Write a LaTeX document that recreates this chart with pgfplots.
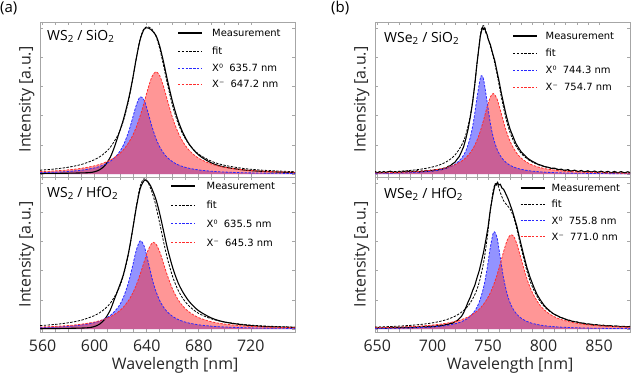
\documentclass[border=0pt]{standalone}
\usepackage{pgfplots}
\pgfplotsset{compat=1.18}
\usepackage{pgfplotstable}
\usepackage{fontspec}
\setmainfont{Open Sans}
\newfontfamily\legfont{DejaVu Sans}
\newcommand\ticksize{\fontsize{16}{18}\selectfont}
\newcommand\labsize{\fontsize{16}{18}\selectfont}
\newcommand\tagsize{\fontsize{14}{16}\selectfont}
\newcommand\legsize{\legfont\fontsize{10}{12}\selectfont}

\definecolor{framegray}{gray}{0.65}
\definecolor{excitonblue}{RGB}{40,40,255}
\definecolor{trionred}{RGB}{255,45,45}

% WS2 / SiO2 : exciton (X0) and trion (X-) components and their sum
\pgfplotstableread{
x X0 Xm fit
558 0.0095 0.0168 0.0263
570 0.0132 0.0223 0.0355
580 0.0182 0.0291 0.0473
590 0.0266 0.0396 0.0662
600 0.0422 0.0566 0.0988
606 0.0589 0.0725 0.1314
612 0.0870 0.0956 0.1826
618 0.138 0.131 0.269
622 0.196 0.165 0.361
626 0.286 0.213 0.499
629 0.377 0.260 0.637
632 0.471 0.321 0.792
635 0.528 0.398 0.926
638 0.506 0.489 0.995
641 0.422 0.585 1.007
644 0.326 0.665 0.991
647 0.246 0.700 0.946
650 0.186 0.673 0.859
653 0.143 0.597 0.740
656 0.112 0.502 0.614
660 0.0834 0.381 0.464
664 0.0641 0.287 0.351
668 0.0507 0.218 0.269
673 0.0389 0.159 0.198
680 0.0282 0.108 0.136
690 0.0191 0.0677 0.0868
700 0.0138 0.046 0.0598
715 0.0091 0.0286 0.0377
730 0.0065 0.0195 0.026
754 0.0041 0.0118 0.0159
}\fitAa
\pgfplotstableread{
x I
558 0.004
570 0.005
580 0.006
590 0.008
596 0.010
600 0.016
604 0.030
608 0.060
612 0.115
615 0.180
618 0.260
622 0.370
626 0.510
629 0.640
632 0.790
635 0.920
638 0.990
640.5 1.000
643 0.990
647 0.950
650 0.875
653 0.765
656 0.640
660 0.490
664 0.370
668 0.280
673 0.200
680 0.130
690 0.075
700 0.048
715 0.028
730 0.018
754 0.010
}\measAa

% WS2 / HfO2
\pgfplotstableread{
x X0 Xm fit
558 0.0099 0.0138 0.0237
570 0.0138 0.0185 0.0323
580 0.0190 0.0243 0.0433
590 0.0279 0.0334 0.0613
600 0.0445 0.0484 0.0929
606 0.0624 0.0626 0.1250
612 0.0928 0.0837 0.1765
618 0.149 0.1165 0.2655
622 0.214 0.149 0.363
626 0.318 0.195 0.513
629 0.425 0.241 0.666
632 0.539 0.301 0.840
635 0.603 0.375 0.978
638 0.569 0.459 1.028
641 0.465 0.538 1.003
644 0.351 0.588 0.939
645.3 0.309 0.593 0.902
647 0.261 0.584 0.845
650 0.195 0.529 0.724
653 0.149 0.447 0.596
656 0.116 0.364 0.480
660 0.0864 0.271 0.357
664 0.0663 0.203 0.269
668 0.0523 0.155 0.207
673 0.0402 0.114 0.154
680 0.0291 0.078 0.107
690 0.0197 0.0496 0.069
700 0.0142 0.034 0.048
715 0.0094 0.0214 0.031
730 0.0067 0.0147 0.021
754 0.0043 0.009 0.013
}\fitAb
\pgfplotstableread{
x I
558 0.003
570 0.004
580 0.005
590 0.007
596 0.010
600 0.018
604 0.035
608 0.070
612 0.130
615 0.200
618 0.270
622 0.370
626 0.520
629 0.670
632 0.830
635 0.960
638 1.015
640 1.015
643 0.980
647 0.890
650 0.790
653 0.670
656 0.550
660 0.420
664 0.320
668 0.250
673 0.185
680 0.125
690 0.075
700 0.048
715 0.028
730 0.018
754 0.011
}\measAb

% WSe2 / SiO2
\pgfplotstableread{
x X0 Xm fit
648 0.0046 0.0075 0.0121
660 0.0060 0.0094 0.0154
672 0.0081 0.0123 0.0204
684 0.0116 0.0167 0.0283
696 0.0180 0.0239 0.0419
706 0.0281 0.0340 0.0621
714 0.0438 0.0475 0.0913
720 0.0658 0.0633 0.1291
726 0.108 0.0879 0.196
730 0.160 0.112 0.272
734 0.253 0.147 0.400
737 0.367 0.183 0.550
740 0.522 0.231 0.753
743 0.656 0.294 0.950
744.3 0.673 0.326 0.999
746 0.644 0.371 1.015
749 0.500 0.456 0.956
752 0.349 0.526 0.875
754.7 0.250 0.551 0.801
758 0.171 0.515 0.686
762 0.114 0.411 0.525
766 0.0805 0.303 0.384
770 0.0594 0.221 0.280
775 0.0428 0.151 0.194
780 0.0322 0.108 0.140
787 0.0228 0.0718 0.0946
795 0.0164 0.0484 0.0648
805 0.0115 0.0321 0.0436
820 0.0074 0.0195 0.0269
840 0.0047 0.0116 0.0163
860 0.0032 0.0077 0.0109
878 0.0024 0.0056 0.0080
}\fitBa
\pgfplotstableread{
x I
648 0.017
650 0.008
652 0.016
654 0.010
656 0.018
658 0.009
660 0.015
662 0.020
664 0.010
666 0.017
668 0.011
670 0.019
672 0.012
674 0.020
676 0.013
678 0.021
680 0.012
682 0.020
684 0.015
686 0.023
688 0.014
690 0.022
692 0.017
694 0.026
696 0.018
698 0.027
700 0.021
702 0.030
704 0.024
706 0.034
708 0.030
710 0.041
712 0.040
714 0.053
716 0.057
718 0.071
720 0.080
722 0.101
724 0.120
726 0.153
728 0.189
730 0.244
732 0.309
734 0.393
736 0.489
738 0.613
740 0.759
741.5 0.851
743 0.944
744 0.976
745 1.005
746 0.988
747 1.001
748 0.966
749 0.956
750 0.923
752 0.886
754 0.828
756 0.776
758 0.703
760 0.631
762 0.551
764 0.481
766 0.413
768 0.353
770 0.303
772 0.266
775 0.210
778 0.173
780 0.150
783 0.129
786 0.106
789 0.091
792 0.079
795 0.067
798 0.060
801 0.051
804 0.047
807 0.039
810 0.041
813 0.029
816 0.034
819 0.023
822 0.031
825 0.019
828 0.027
831 0.016
834 0.025
837 0.014
840 0.023
843 0.012
846 0.021
849 0.011
852 0.020
855 0.010
858 0.019
861 0.009
864 0.018
867 0.009
870 0.017
873 0.008
876 0.016
878 0.010
}\measBa

% WSe2 / HfO2
\pgfplotstableread{
x X0 Xm fit
648 0.0041 0.0095 0.0136
660 0.0052 0.0116 0.0168
672 0.0068 0.0145 0.0213
684 0.0092 0.0187 0.0279
696 0.0132 0.0248 0.0380
706 0.0189 0.0327 0.0516
714 0.0266 0.0418 0.0684
722 0.0398 0.0554 0.0952
728 0.0572 0.0701 0.1273
733 0.0816 0.0871 0.1687
738 0.124 0.111 0.235
742 0.184 0.136 0.320
746 0.287 0.171 0.458
749 0.408 0.205 0.613
752 0.558 0.248 0.806
755 0.663 0.302 0.965
758 0.627 0.369 0.996
761 0.487 0.447 0.934
764 0.347 0.530 0.877
767 0.245 0.603 0.848
770 0.176 0.643 0.819
773 0.131 0.635 0.766
776 0.101 0.581 0.682
780 0.0735 0.475 0.549
785 0.0523 0.345 0.397
790 0.0389 0.248 0.287
797 0.0273 0.161 0.188
805 0.0194 0.105 0.124
815 0.0135 0.0673 0.081
830 0.0087 0.0392 0.048
845 0.0060 0.0255 0.0315
860 0.0044 0.0179 0.0223
878 0.0032 0.0125 0.0157
}\fitBb
\pgfplotstableread{
x I
648 0.012
650 0.005
652 0.013
654 0.006
656 0.012
658 0.005
660 0.013
662 0.007
664 0.014
666 0.007
668 0.013
670 0.007
672 0.014
674 0.008
676 0.015
678 0.008
680 0.015
682 0.009
684 0.016
686 0.010
688 0.017
690 0.011
692 0.018
694 0.012
696 0.019
698 0.014
700 0.021
702 0.016
704 0.023
706 0.020
708 0.027
710 0.024
712 0.032
714 0.031
716 0.040
718 0.040
720 0.051
722 0.057
724 0.071
726 0.087
728 0.113
730 0.149
732 0.186
734 0.219
736 0.263
738 0.299
740 0.351
742 0.399
744 0.463
746 0.529
748 0.611
750 0.699
752 0.816
754 0.904
755.5 0.961
756.5 0.994
757.5 0.984
758.5 1.006
759.5 0.984
761 0.991
762.5 0.964
764 0.956
766 0.924
768 0.891
770 0.849
772 0.806
774 0.754
776 0.701
778 0.634
780 0.571
782 0.509
785 0.421
788 0.351
791 0.291
794 0.239
797 0.201
800 0.167
803 0.142
806 0.122
809 0.104
812 0.093
815 0.081
818 0.073
821 0.063
824 0.058
827 0.050
830 0.049
833 0.041
836 0.040
839 0.033
842 0.034
845 0.028
848 0.030
851 0.023
854 0.026
857 0.020
860 0.023
863 0.018
866 0.021
869 0.016
872 0.019
875 0.015
878 0.018
}\measBb

\pgfplotsset{
  spec/.style={
    scale only axis, width=255bp, height=155bp,
    ymin=-0.02, ymax=1.04,
    ytick={0,0.2,0.4,0.6,0.8,1}, yticklabels={},
    axis line style={framegray, line width=0.6bp},
    tick style={framegray, line width=0.5bp},
    major tick length=3bp, minor tick length=3bp,
    tick align=inside,
    /pgf/number format/assume math mode=true,
    tick label style={font=\ticksize, text=black!85},
    xticklabel shift=4bp,
    ylabel={Intensity [a.u.]},
    every axis y label/.style={at={(axis description cs:-0.052,0.5)},
      rotate=90, anchor=center, font=\labsize, text=black!85},
    every axis x label/.style={at={(axis description cs:0.53,-0.245)},
      anchor=base, font=\labsize, text=black!85},
  },
  comp/.style={draw=none, fill=#1, fill opacity=0.5, smooth, forget plot},
  meas/.style={color=black, line width=1.1bp, smooth},
  measnoisy/.style={color=black, line width=1.1bp, line join=round},
  fitline/.style={color=black, line width=0.8bp, dash pattern=on 2.4bp off 1.4bp, smooth},
  x0line/.style={color=excitonblue, line width=0.8bp, dash pattern=on 2.4bp off 1.4bp, smooth},
  xmline/.style={color=trionred, line width=0.8bp, dash pattern=on 2.4bp off 1.4bp, smooth},
}

% key of one panel: #1 line start, #2 text start, #3-#6 row heights, #7 X0 text, #8 X- text
\newcommand\speckey[8]{%
  \draw[black, line width=1.1bp] (#1,#3) -- ({#1+24},#3);
  \draw[black, line width=0.8bp, dash pattern=on 2.4bp off 1.4bp] (#1,#4) -- ({#1+24},#4);
  \draw[excitonblue, line width=0.8bp, dash pattern=on 2.4bp off 1.4bp] (#1,#5) -- ({#1+24},#5);
  \draw[trionred, line width=0.8bp, dash pattern=on 2.4bp off 1.4bp] (#1,#6) -- ({#1+24},#6);
  \node[keytext] at (#2,#3) {Measurement};
  \node[keytext] at (#2,#4) {fit};
  \node[keytext] at (#2,#5) {#7};
  \node[keytext] at (#2,#6) {#8};
}

\begin{document}
\begin{tikzpicture}[x=1bp, y=1bp,
  keytext/.style={anchor=west, inner sep=0pt, font=\legsize, text height=7.3bp, text depth=0pt}]
\useasboundingbox (0,0) rectangle (632,374);

% (a) WS2 on SiO2
\begin{axis}[spec, at={(40bp,197bp)}, xmin=558, xmax=754,
  xtick={560,600,640,680,720}, minor x tick num=3, xticklabels={}]
\addplot[comp=excitonblue] table[x=x,y=X0]{\fitAa} \closedcycle;
\addplot[comp=trionred] table[x=x,y=Xm]{\fitAa} \closedcycle;
\addplot[meas] table[x=x,y=I]{\measAa};
\addplot[fitline] table[x=x,y=fit]{\fitAa};
\addplot[x0line] table[x=x,y=X0]{\fitAa};
\addplot[xmline] table[x=x,y=Xm]{\fitAa};
\end{axis}

% (a) WS2 on HfO2
\begin{axis}[spec, at={(40bp,42bp)}, xmin=558, xmax=754,
  xtick={560,600,640,680,720}, minor x tick num=3,
  xlabel={Wavelength [nm]}]
\addplot[comp=excitonblue] table[x=x,y=X0]{\fitAb} \closedcycle;
\addplot[comp=trionred] table[x=x,y=Xm]{\fitAb} \closedcycle;
\addplot[meas] table[x=x,y=I]{\measAb};
\addplot[fitline] table[x=x,y=fit]{\fitAb};
\addplot[x0line] table[x=x,y=X0]{\fitAb};
\addplot[xmline] table[x=x,y=Xm]{\fitAb};
\end{axis}

% (b) WSe2 on SiO2
\begin{axis}[spec, at={(375bp,197bp)}, xmin=648, xmax=878,
  xtick={650,700,750,800,850}, minor x tick num=4, xticklabels={}]
\addplot[comp=excitonblue] table[x=x,y=X0]{\fitBa} \closedcycle;
\addplot[comp=trionred] table[x=x,y=Xm]{\fitBa} \closedcycle;
\addplot[measnoisy] table[x=x,y=I]{\measBa};
\addplot[fitline] table[x=x,y=fit]{\fitBa};
\addplot[x0line] table[x=x,y=X0]{\fitBa};
\addplot[xmline] table[x=x,y=Xm]{\fitBa};
\end{axis}

% (b) WSe2 on HfO2
\begin{axis}[spec, at={(375bp,42bp)}, xmin=648, xmax=878,
  xtick={650,700,750,800,850}, minor x tick num=4,
  xlabel={Wavelength [nm]}]
\addplot[comp=excitonblue] table[x=x,y=X0]{\fitBb} \closedcycle;
\addplot[comp=trionred] table[x=x,y=Xm]{\fitBb} \closedcycle;
\addplot[measnoisy] table[x=x,y=I]{\measBb};
\addplot[fitline] table[x=x,y=fit]{\fitBb};
\addplot[x0line] table[x=x,y=X0]{\fitBb};
\addplot[xmline] table[x=x,y=Xm]{\fitBb};
\end{axis}

% keys
\speckey{178}{212}{341}{323}{306}{290}{X⁰\ \ 635.7 nm}{X⁻\ \ 647.2 nm}
\speckey{171}{206.5}{188}{169}{150.5}{131.5}{X⁰\ \ 635.5 nm}{X⁻\ \ 645.3 nm}
\speckey{513}{545.5}{338}{321}{304}{287}{X⁰\ \ 744.3 nm}{X⁻\ \ 754.7 nm}
\speckey{520.5}{551.5}{186}{170}{153.5}{137.5}{X⁰\ \ 755.8 nm}{X⁻\ \ 771.0 nm}

% panel tags and sample names
\node[anchor=base west, inner sep=0pt, font=\fontsize{15}{17}\selectfont] at (0,361.5) {(a)};
\node[anchor=base west, inner sep=0pt, font=\fontsize{15}{17}\selectfont] at (331,361.5) {(b)};
\node[anchor=base west, inner sep=0pt, font=\tagsize] at (47,334) {WS\textsubscript{2} / SiO\textsubscript{2}};
\node[anchor=base west, inner sep=0pt, font=\tagsize] at (47,176.5) {WS\textsubscript{2} / HfO\textsubscript{2}};
\node[anchor=base west, inner sep=0pt, font=\tagsize] at (384,331.5) {WSe\textsubscript{2} / SiO\textsubscript{2}};
\node[anchor=base west, inner sep=0pt, font=\tagsize] at (384,175.5) {WSe\textsubscript{2} / HfO\textsubscript{2}};
\end{tikzpicture}
\end{document}
